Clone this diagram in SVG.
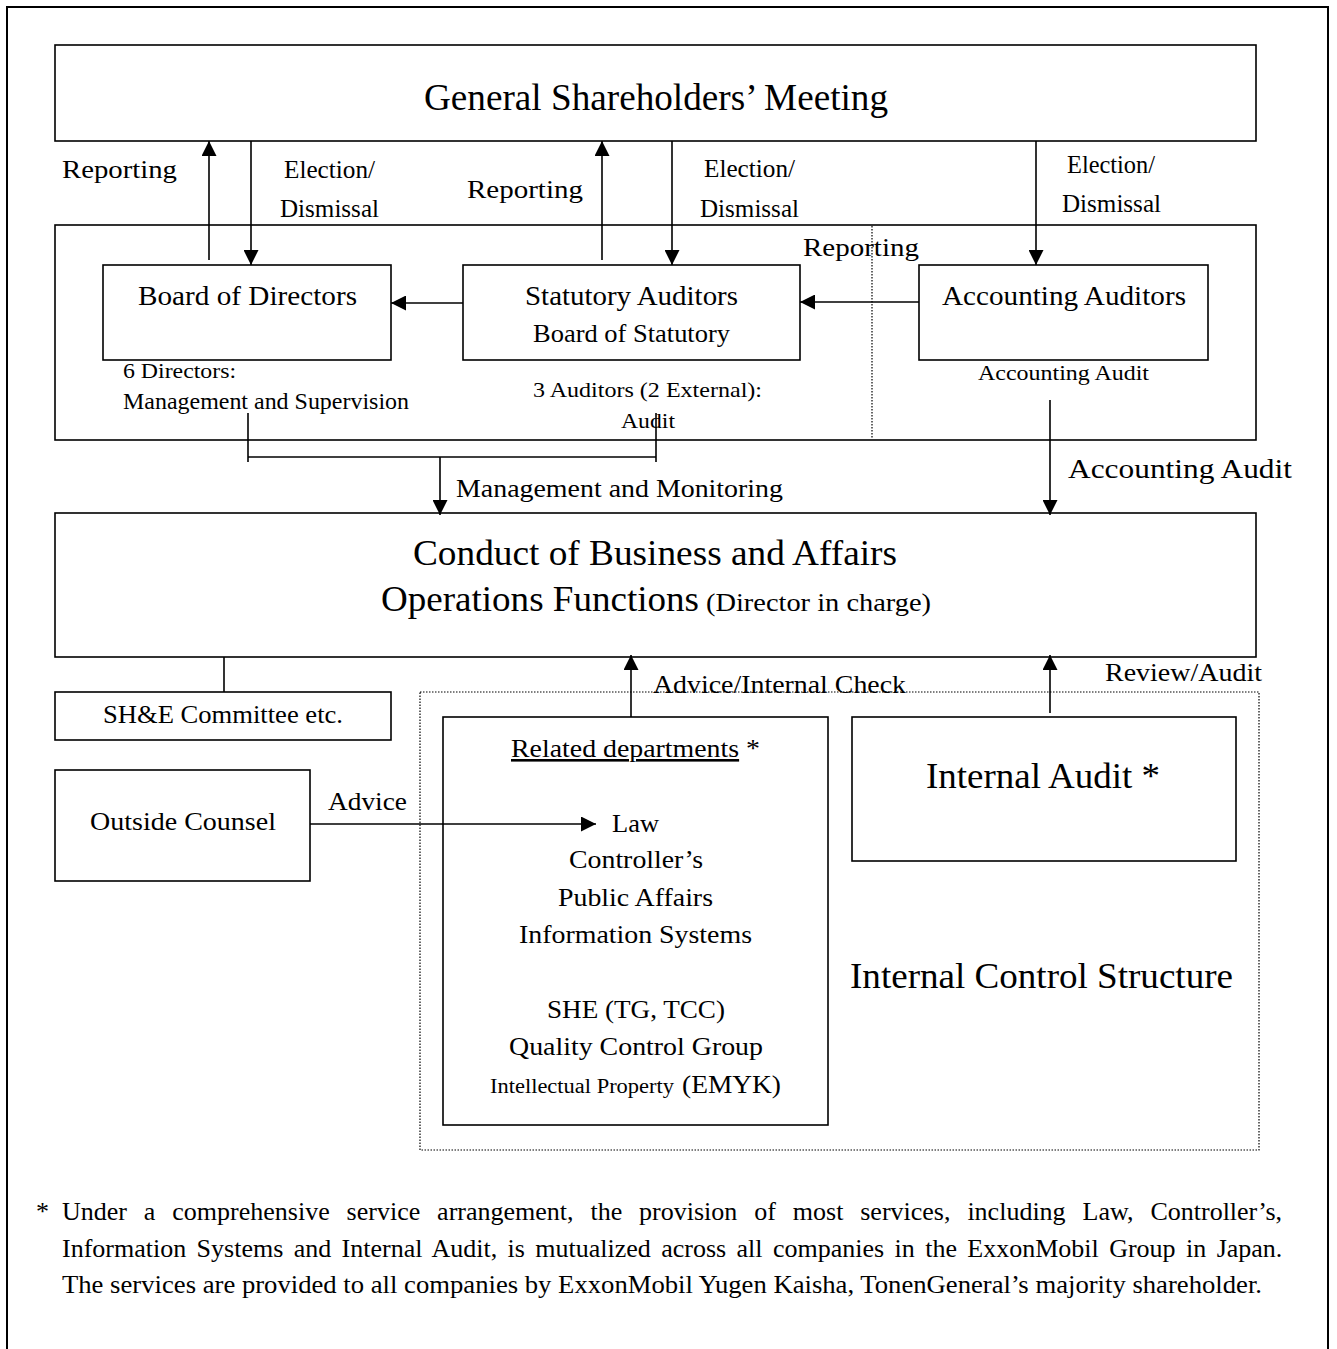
<svg xmlns="http://www.w3.org/2000/svg" width="1337" height="1349" viewBox="0 0 1337 1349">
<style>
text{font-family:"Liberation Serif","Times New Roman",serif;fill:#000}
.box{fill:#fff;stroke:#000;stroke-width:1.6}
.dot{fill:none;stroke:#000;stroke-width:1.2;stroke-dasharray:1.5 1.5}
.ln{fill:none;stroke:#000;stroke-width:1.6}
.ar{fill:none;stroke:#000;stroke-width:1.6;marker-end:url(#ah)}
</style>
<defs>
<marker id="ah" markerUnits="userSpaceOnUse" markerWidth="15" markerHeight="15" refX="15" refY="7.5" orient="auto">
<path d="M0,0 L15,7.5 L0,15 Z" fill="#000"/>
</marker>
</defs>
<rect x="0" y="0" width="1337" height="1349" fill="#fff"/>
<rect x="7" y="7" width="1321" height="1370" fill="none" stroke="#000" stroke-width="2"/>

<g id="gsm">
<rect class="box" x="55" y="45" width="1201" height="96"/>
<text x="424" y="110" font-size="37" textLength="464" lengthAdjust="spacingAndGlyphs">General Shareholders’ Meeting</text>
</g>

<g id="board-area">
<rect class="box" x="55" y="225" width="1201" height="215"/>
<line class="dot" x1="872" y1="226" x2="872" y2="439"/>
</g>

<g id="board-directors">
<rect class="box" x="103" y="265" width="288" height="95"/>
<text x="138" y="305" font-size="28" textLength="219" lengthAdjust="spacingAndGlyphs">Board of Directors</text>
<text x="123" y="378" font-size="22" textLength="113" lengthAdjust="spacingAndGlyphs">6 Directors:</text>
<text x="123" y="409" font-size="23" textLength="286" lengthAdjust="spacingAndGlyphs">Management and Supervision</text>
</g>

<g id="statutory-auditors">
<rect class="box" x="463" y="265" width="337" height="95"/>
<text x="525" y="305" font-size="28" textLength="213" lengthAdjust="spacingAndGlyphs">Statutory Auditors</text>
<text x="533" y="342" font-size="26" textLength="197" lengthAdjust="spacingAndGlyphs">Board of Statutory</text>
<text x="533" y="397" font-size="22" textLength="229" lengthAdjust="spacingAndGlyphs">3 Auditors (2 External):</text>
<text x="621" y="428" font-size="22" textLength="54" lengthAdjust="spacingAndGlyphs">Audit</text>
</g>

<g id="accounting-auditors">
<rect class="box" x="919" y="265" width="289" height="95"/>
<text x="942" y="305" font-size="28" textLength="244" lengthAdjust="spacingAndGlyphs">Accounting Auditors</text>
<text x="978" y="380" font-size="22" textLength="171" lengthAdjust="spacingAndGlyphs">Accounting Audit</text>
</g>

<g id="conduct">
<rect class="box" x="55" y="513" width="1201" height="144"/>
<text x="413" y="565" font-size="36" textLength="484" lengthAdjust="spacingAndGlyphs">Conduct of Business and Affairs</text>
<text x="381" y="611" font-size="36" textLength="318" lengthAdjust="spacingAndGlyphs">Operations Functions</text>
<text x="706" y="611" font-size="25" textLength="225" lengthAdjust="spacingAndGlyphs">(Director in charge)</text>
</g>

<g id="she-committee">
<rect class="box" x="55" y="692" width="336" height="48"/>
<text x="103" y="723" font-size="25" textLength="240" lengthAdjust="spacingAndGlyphs">SH&amp;E Committee etc.</text>
</g>

<g id="outside-counsel">
<rect class="box" x="55" y="770" width="255" height="111"/>
<text x="90" y="830" font-size="26" textLength="186" lengthAdjust="spacingAndGlyphs">Outside Counsel</text>
</g>

<g id="internal-control">
<rect class="dot" x="420" y="692" width="839" height="458"/>
<text x="850" y="988" font-size="36" textLength="383" lengthAdjust="spacingAndGlyphs">Internal Control Structure</text>
</g>

<g id="related-departments">
<rect class="box" x="443" y="717" width="385" height="408"/>
<text x="511" y="757" font-size="26" textLength="249" lengthAdjust="spacingAndGlyphs"><tspan text-decoration="underline">Related departments</tspan> *</text>
<text x="612" y="832" font-size="26" textLength="47" lengthAdjust="spacingAndGlyphs">Law</text>
<text x="569" y="868" font-size="26" textLength="134" lengthAdjust="spacingAndGlyphs">Controller’s</text>
<text x="558" y="906" font-size="26" textLength="155" lengthAdjust="spacingAndGlyphs">Public Affairs</text>
<text x="519" y="943" font-size="26" textLength="233" lengthAdjust="spacingAndGlyphs">Information Systems</text>
<text x="547" y="1018" font-size="26" textLength="178" lengthAdjust="spacingAndGlyphs">SHE (TG, TCC)</text>
<text x="509" y="1055" font-size="26" textLength="254" lengthAdjust="spacingAndGlyphs">Quality Control Group</text>
<text x="490" y="1093" font-size="20" textLength="184" lengthAdjust="spacingAndGlyphs">Intellectual Property</text>
<text x="682" y="1093" font-size="26" textLength="99" lengthAdjust="spacingAndGlyphs">(EMYK)</text>
</g>

<g id="internal-audit">
<rect class="box" x="852" y="717" width="384" height="144"/>
<text x="926" y="788" font-size="36" textLength="234" lengthAdjust="spacingAndGlyphs">Internal Audit *</text>
</g>

<g id="connectors">
<line class="ar" x1="209" y1="260" x2="209" y2="141"/>
<line class="ar" x1="251" y1="141" x2="251" y2="265"/>
<line class="ar" x1="602" y1="260" x2="602" y2="141"/>
<line class="ar" x1="672" y1="141" x2="672" y2="265"/>
<line class="ar" x1="1036" y1="141" x2="1036" y2="265"/>
<line class="ar" x1="463" y1="303" x2="391" y2="303"/>
<line class="ar" x1="919" y1="302" x2="800" y2="302"/>
<polyline class="ln" points="248,413 248,462"/>
<polyline class="ln" points="656,413 656,462"/>
<line class="ln" x1="248" y1="457" x2="656" y2="457"/>
<line class="ar" x1="440" y1="457" x2="440" y2="515"/>
<line class="ar" x1="1050" y1="400" x2="1050" y2="515"/>
<line class="ln" x1="224" y1="657" x2="224" y2="692"/>
<line class="ar" x1="310" y1="824" x2="596" y2="824"/>
<line class="ar" x1="631" y1="717" x2="631" y2="655"/>
<line class="ar" x1="1050" y1="713" x2="1050" y2="655"/>
</g>

<g id="labels">
<text x="62" y="178" font-size="26" textLength="115" lengthAdjust="spacingAndGlyphs">Reporting</text>
<text x="284" y="178" font-size="26" textLength="91" lengthAdjust="spacingAndGlyphs">Election/</text>
<text x="280" y="217" font-size="26" textLength="99" lengthAdjust="spacingAndGlyphs">Dismissal</text>
<text x="467" y="198" font-size="26" textLength="116" lengthAdjust="spacingAndGlyphs">Reporting</text>
<text x="704" y="177" font-size="26" textLength="91" lengthAdjust="spacingAndGlyphs">Election/</text>
<text x="700" y="217" font-size="26" textLength="99" lengthAdjust="spacingAndGlyphs">Dismissal</text>
<text x="803" y="256" font-size="26" textLength="116" lengthAdjust="spacingAndGlyphs">Reporting</text>
<text x="1067" y="173" font-size="26" textLength="88" lengthAdjust="spacingAndGlyphs">Election/</text>
<text x="1062" y="212" font-size="26" textLength="99" lengthAdjust="spacingAndGlyphs">Dismissal</text>
<text x="456" y="497" font-size="26" textLength="327" lengthAdjust="spacingAndGlyphs">Management and Monitoring</text>
<text x="1068" y="478" font-size="28" textLength="224" lengthAdjust="spacingAndGlyphs">Accounting Audit</text>
<text x="328" y="810" font-size="26" textLength="79" lengthAdjust="spacingAndGlyphs">Advice</text>
<text x="653" y="693" font-size="26" textLength="253" lengthAdjust="spacingAndGlyphs">Advice/Internal Check</text>
<text x="1105" y="681" font-size="26" textLength="157" lengthAdjust="spacingAndGlyphs">Review/Audit</text>
</g>

<g id="footnote">
<text x="36" y="1220" font-size="26">*</text>
<text x="62" y="1220" font-size="26" word-spacing="10.4">Under a comprehensive service arrangement, the provision of most services, including Law, Controller’s,</text>
<text x="62" y="1257" font-size="26" word-spacing="3.9">Information Systems and Internal Audit, is mutualized across all companies in the ExxonMobil Group in Japan.</text>
<text x="62" y="1293" font-size="26" textLength="1200" lengthAdjust="spacingAndGlyphs">The services are provided to all companies by ExxonMobil Yugen Kaisha, TonenGeneral’s majority shareholder.</text>
</g>
</svg>
